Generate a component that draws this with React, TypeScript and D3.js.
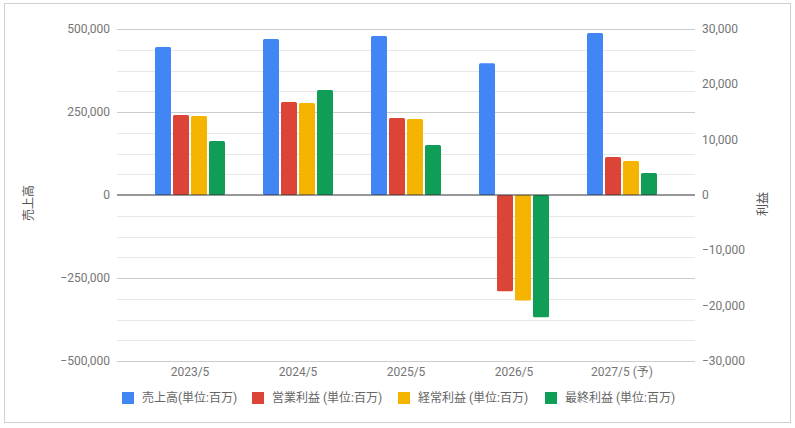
import React from "react";
import * as d3 from "d3";

const categories = ["2023/5", "2024/5", "2025/5", "2026/5", "2027/5 (予)"];
const sales = [446000, 470000, 479000, 397000, 488000];
const operatingProfit = [14450, 16800, 13900, -17400, 6870];
const ordinaryProfit = [14280, 16630, 13730, -19050, 6150];
const netProfit = [9760, 18980, 9050, -22100, 3980];
const leftTicks = [-500000, -250000, 0, 250000, 500000];
const rightTicks = [-30000, -20000, -10000, 0, 10000, 20000, 30000];
const seriesNames = ["売上高(単位:百万)", "営業利益 (単位:百万)", "経常利益 (単位:百万)", "最終利益 (単位:百万)"];
const colors = ["#4285F4", "#DB4437", "#F4B400", "#0F9D58"];

const W = 795;
const H = 428;
const FONT = "Roboto, 'Noto Sans CJK JP', sans-serif";

export default function App() {
  const top = 29;
  const bottom = 361;
  const plotL = 117;
  const plotR = 695;
  const yL = d3.scaleLinear().domain([-500000, 500000]).range([bottom, top]);
  const yR = d3.scaleLinear().domain([-30000, 30000]).range([bottom, top]);
  const x = d3.scaleBand<string>().domain(categories).range([136, 676]).paddingInner(0).paddingOuter(0);
  const fmt = d3.format(",");
  const barW = 16;
  const barGap = 2;
  const groupW = barW * 4 + barGap * 3;

  const minorGrid = d3.range(-500000, 500001, 62500);
  const series = [
    { vals: sales, scale: yL },
    { vals: operatingProfit, scale: yR },
    { vals: ordinaryProfit, scale: yR },
    { vals: netProfit, scale: yR },
  ];
  const legendX = [122, 252, 398, 545];

  return (
    <svg width={W} height={H} style={{ position: "absolute", left: 0, top: 0, fontFamily: FONT }}>
      <rect x={0} y={0} width={W} height={H} fill="#fff" />
      <rect x={4.5} y={3.5} width={786} height={419} fill="#fff" stroke="#d0d0d0" />
      {minorGrid.map((v) => {
        const major = v % 250000 === 0;
        if (v === 0) return null;
        return (
          <line
            key={v}
            x1={plotL}
            x2={plotR}
            y1={Math.round(yL(v)) + 0.5}
            y2={Math.round(yL(v)) + 0.5}
            stroke={major ? "#cccccc" : "#e8e8e8"}
            strokeWidth={1}
          />
        );
      })}
      {categories.map((c, ci) =>
        series.map((s, si) => {
          const v = s.vals[ci];
          const y0 = s.scale(0);
          const y1 = s.scale(v);
          const bx = (x(c) as number) + (x.bandwidth() - groupW) / 2 + si * (barW + barGap);
          return (
            <rect
              key={`${ci}-${si}`}
              x={bx}
              y={Math.min(y0, y1)}
              width={barW}
              height={Math.abs(y1 - y0)}
              fill={colors[si]}
              rx={1.5}
            />
          );
        })
      )}
      <line x1={plotL} x2={plotR} y1={yL(0)} y2={yL(0)} stroke="#333" strokeWidth={1.2} />
      {leftTicks.map((t) => (
        <text key={t} x={110} y={yL(t) + 4} textAnchor="end" fontSize={12} fill="#757575">
          {fmt(t)}
        </text>
      ))}
      {rightTicks.map((t) => (
        <text key={t} x={702} y={yR(t) + 4} textAnchor="start" fontSize={12} fill="#757575">
          {fmt(t)}
        </text>
      ))}
      {categories.map((c) => (
        <text key={c} x={(x(c) as number) + x.bandwidth() / 2} y={376} textAnchor="middle" fontSize={12} fill="#757575">
          {c}
        </text>
      ))}
      <text transform="translate(33,203) rotate(-90)" textAnchor="middle" fontSize={12} fill="#555">
        売上高
      </text>
      <text transform="translate(767,204) rotate(-90)" textAnchor="middle" fontSize={12} fill="#555">
        利益
      </text>
      {seriesNames.map((n, i) => (
        <g key={n}>
          <rect x={legendX[i]} y={392} width={12} height={12} fill={colors[i]} />
          <text x={legendX[i] + 20} y={402} fontSize={12} fill="#666">
            {n}
          </text>
        </g>
      ))}
    </svg>
  );
}
